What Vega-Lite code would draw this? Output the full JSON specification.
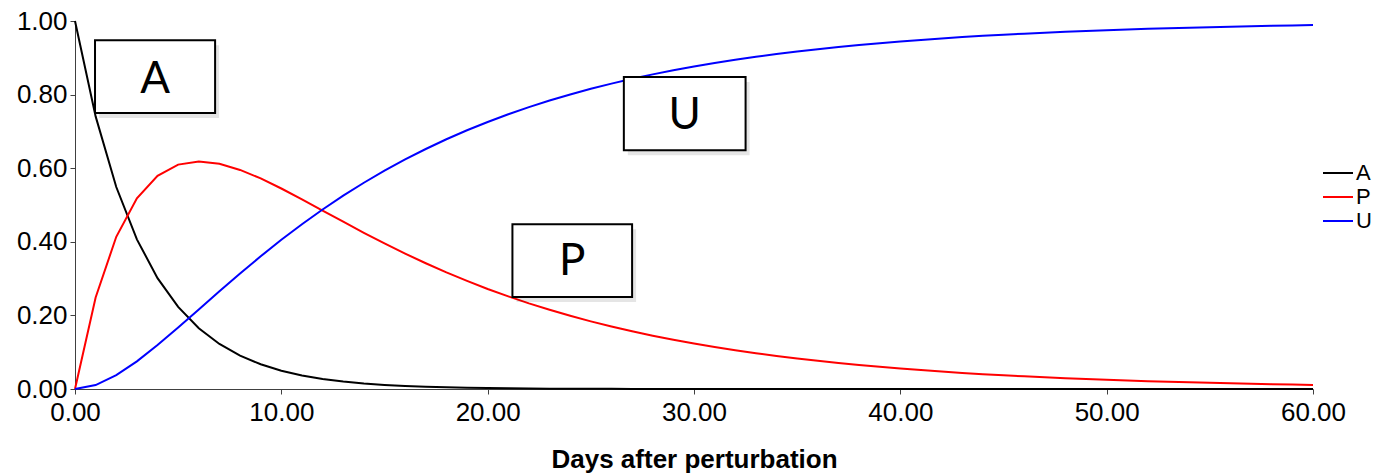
{
  "$schema": "https://vega.github.io/schema/vega-lite/v6.json",
  "width": 1238,
  "height": 368,
  "autosize": {"type": "none"},
  "padding": {"left": 75, "top": 21, "right": 67, "bottom": 85},
  "config": {"view": {"stroke": null}, "font": "Liberation Sans"},
  "datasets": {
    "curves": [
      {"t": 0, "A": 1.0, "P": 0.0, "U": 0.0},
      {"t": 1, "A": 0.7408, "P": 0.2486, "U": 0.0106},
      {"t": 2, "A": 0.5488, "P": 0.4136, "U": 0.0376},
      {"t": 3, "A": 0.4066, "P": 0.5182, "U": 0.0752},
      {"t": 4, "A": 0.3012, "P": 0.5794, "U": 0.1194},
      {"t": 5, "A": 0.2231, "P": 0.6098, "U": 0.1671},
      {"t": 6, "A": 0.1653, "P": 0.6184, "U": 0.2163},
      {"t": 7, "A": 0.1225, "P": 0.6119, "U": 0.2656},
      {"t": 8, "A": 0.0907, "P": 0.5953, "U": 0.314},
      {"t": 9, "A": 0.0672, "P": 0.5722, "U": 0.3606},
      {"t": 10, "A": 0.0498, "P": 0.5448, "U": 0.4054},
      {"t": 11, "A": 0.0369, "P": 0.5153, "U": 0.4478},
      {"t": 12, "A": 0.0273, "P": 0.4849, "U": 0.4878},
      {"t": 13, "A": 0.0202, "P": 0.4545, "U": 0.5253},
      {"t": 14, "A": 0.015, "P": 0.4245, "U": 0.5605},
      {"t": 15, "A": 0.0111, "P": 0.3956, "U": 0.5933},
      {"t": 16, "A": 0.0082, "P": 0.3679, "U": 0.6239},
      {"t": 17, "A": 0.0061, "P": 0.3417, "U": 0.6522},
      {"t": 18, "A": 0.0045, "P": 0.3169, "U": 0.6786},
      {"t": 19, "A": 0.0033, "P": 0.2937, "U": 0.703},
      {"t": 20, "A": 0.0025, "P": 0.2719, "U": 0.7256},
      {"t": 21, "A": 0.0018, "P": 0.2517, "U": 0.7465},
      {"t": 22, "A": 0.0014, "P": 0.2326, "U": 0.766},
      {"t": 23, "A": 0.001, "P": 0.2152, "U": 0.7838},
      {"t": 24, "A": 0.0007, "P": 0.1989, "U": 0.8004},
      {"t": 25, "A": 0.0006, "P": 0.1837, "U": 0.8157},
      {"t": 26, "A": 0.0004, "P": 0.1698, "U": 0.8298},
      {"t": 27, "A": 0.0003, "P": 0.1568, "U": 0.8429},
      {"t": 28, "A": 0.0002, "P": 0.1449, "U": 0.8549},
      {"t": 29, "A": 0.0002, "P": 0.1338, "U": 0.866},
      {"t": 30, "A": 0.0001, "P": 0.1235, "U": 0.8764},
      {"t": 31, "A": 0.0001, "P": 0.1141, "U": 0.8858},
      {"t": 32, "A": 0.0001, "P": 0.1054, "U": 0.8945},
      {"t": 33, "A": 0.0, "P": 0.0973, "U": 0.9027},
      {"t": 34, "A": 0.0, "P": 0.0899, "U": 0.9101},
      {"t": 35, "A": 0.0, "P": 0.0829, "U": 0.9171},
      {"t": 36, "A": 0.0, "P": 0.0765, "U": 0.9235},
      {"t": 37, "A": 0.0, "P": 0.0706, "U": 0.9294},
      {"t": 38, "A": 0.0, "P": 0.0652, "U": 0.9348},
      {"t": 39, "A": 0.0, "P": 0.0603, "U": 0.9397},
      {"t": 40, "A": 0.0, "P": 0.0556, "U": 0.9444},
      {"t": 41, "A": 0.0, "P": 0.0513, "U": 0.9487},
      {"t": 42, "A": 0.0, "P": 0.0473, "U": 0.9527},
      {"t": 43, "A": 0.0, "P": 0.0438, "U": 0.9562},
      {"t": 44, "A": 0.0, "P": 0.0404, "U": 0.9596},
      {"t": 45, "A": 0.0, "P": 0.0372, "U": 0.9628},
      {"t": 46, "A": 0.0, "P": 0.0344, "U": 0.9656},
      {"t": 47, "A": 0.0, "P": 0.0318, "U": 0.9682},
      {"t": 48, "A": 0.0, "P": 0.0293, "U": 0.9707},
      {"t": 49, "A": 0.0, "P": 0.027, "U": 0.973},
      {"t": 50, "A": 0.0, "P": 0.025, "U": 0.975},
      {"t": 51, "A": 0.0, "P": 0.023, "U": 0.977},
      {"t": 52, "A": 0.0, "P": 0.0213, "U": 0.9787},
      {"t": 53, "A": 0.0, "P": 0.0196, "U": 0.9804},
      {"t": 54, "A": 0.0, "P": 0.0181, "U": 0.9819},
      {"t": 55, "A": 0.0, "P": 0.0168, "U": 0.9832},
      {"t": 56, "A": 0.0, "P": 0.0154, "U": 0.9846},
      {"t": 57, "A": 0.0, "P": 0.0143, "U": 0.9857},
      {"t": 58, "A": 0.0, "P": 0.0132, "U": 0.9868},
      {"t": 59, "A": 0.0, "P": 0.0121, "U": 0.9879},
      {"t": 60, "A": 0.0, "P": 0.0112, "U": 0.9888}
    ],
    "boxes": [
      {"label": "A", "x1": 0.97, "x2": 6.79, "y1": 0.948, "y2": 0.75, "cx": 3.88, "cy": 0.839},
      {"label": "U", "x1": 26.6, "x2": 32.5, "y1": 0.848, "y2": 0.649, "cx": 29.55, "cy": 0.743},
      {"label": "P", "x1": 21.2, "x2": 27.0, "y1": 0.448, "y2": 0.25, "cx": 24.1, "cy": 0.344}
    ]
  },
  "layer": [
    {
      "data": {"name": "curves"},
      "transform": [{"fold": ["A", "P", "U"], "as": ["series", "value"]}],
      "mark": {"type": "line", "strokeWidth": 2},
      "encoding": {
        "x": {
          "field": "t", "type": "quantitative",
          "scale": {"domain": [0, 60], "nice": false, "zero": false},
          "axis": {
            "title": "Days after perturbation", "values": [0, 10, 20, 30, 40, 50, 60], "format": ".2f",
            "grid": false, "domainColor": "#404040", "tickColor": "#404040", "tickSize": 5,
            "labelFontSize": 26, "labelColor": "#000", "labelPadding": 5, "labelFlush": false, "labelOverlap": false,
            "titleFontSize": 26, "titleFontWeight": "bold", "titleColor": "#000", "titlePadding": 21
          }
        },
        "y": {
          "field": "value", "type": "quantitative",
          "scale": {"domain": [0, 1], "nice": false},
          "axis": {
            "title": null, "values": [0, 0.2, 0.4, 0.6, 0.8, 1.0], "format": ".2f",
            "grid": false, "domainColor": "#404040", "tickColor": "#404040", "tickSize": 5,
            "labelFontSize": 26, "labelColor": "#000", "labelPadding": 3, "labelFlush": false, "labelOverlap": false
          }
        },
        "color": {
          "field": "series", "type": "nominal",
          "scale": {"domain": ["A", "P", "U"], "range": ["#000000", "#ff0000", "#0000ff"]},
          "legend": {
            "orient": "none", "legendX": 1247, "legendY": 140, "title": null, "padding": 0,
            "symbolType": "stroke", "symbolSize": 900, "symbolStrokeWidth": 2,
            "labelFontSize": 22, "labelColor": "#000", "labelOffset": 2, "rowPadding": 0, "clipHeight": 24
          }
        }
      }
    },
    {
      "data": {"name": "boxes"},
      "mark": {"type": "rect", "fill": "#000000", "opacity": 0.1, "xOffset": 4, "yOffset": 5, "x2Offset": 4, "y2Offset": 5},
      "encoding": {
        "x": {"field": "x1", "type": "quantitative"},
        "x2": {"field": "x2"},
        "y": {"field": "y1", "type": "quantitative"},
        "y2": {"field": "y2"}
      }
    },
    {
      "data": {"name": "boxes"},
      "mark": {"type": "rect", "fill": "#ffffff", "stroke": "#000000", "strokeWidth": 2},
      "encoding": {
        "x": {"field": "x1", "type": "quantitative"},
        "x2": {"field": "x2"},
        "y": {"field": "y1", "type": "quantitative"},
        "y2": {"field": "y2"}
      }
    },
    {
      "data": {"name": "boxes"},
      "mark": {"type": "text", "font": "Lato", "fontSize": 44, "color": "#000000", "baseline": "middle", "align": "center"},
      "encoding": {
        "x": {"field": "cx", "type": "quantitative"},
        "y": {"field": "cy", "type": "quantitative"},
        "text": {"field": "label"}
      }
    }
  ]
}
